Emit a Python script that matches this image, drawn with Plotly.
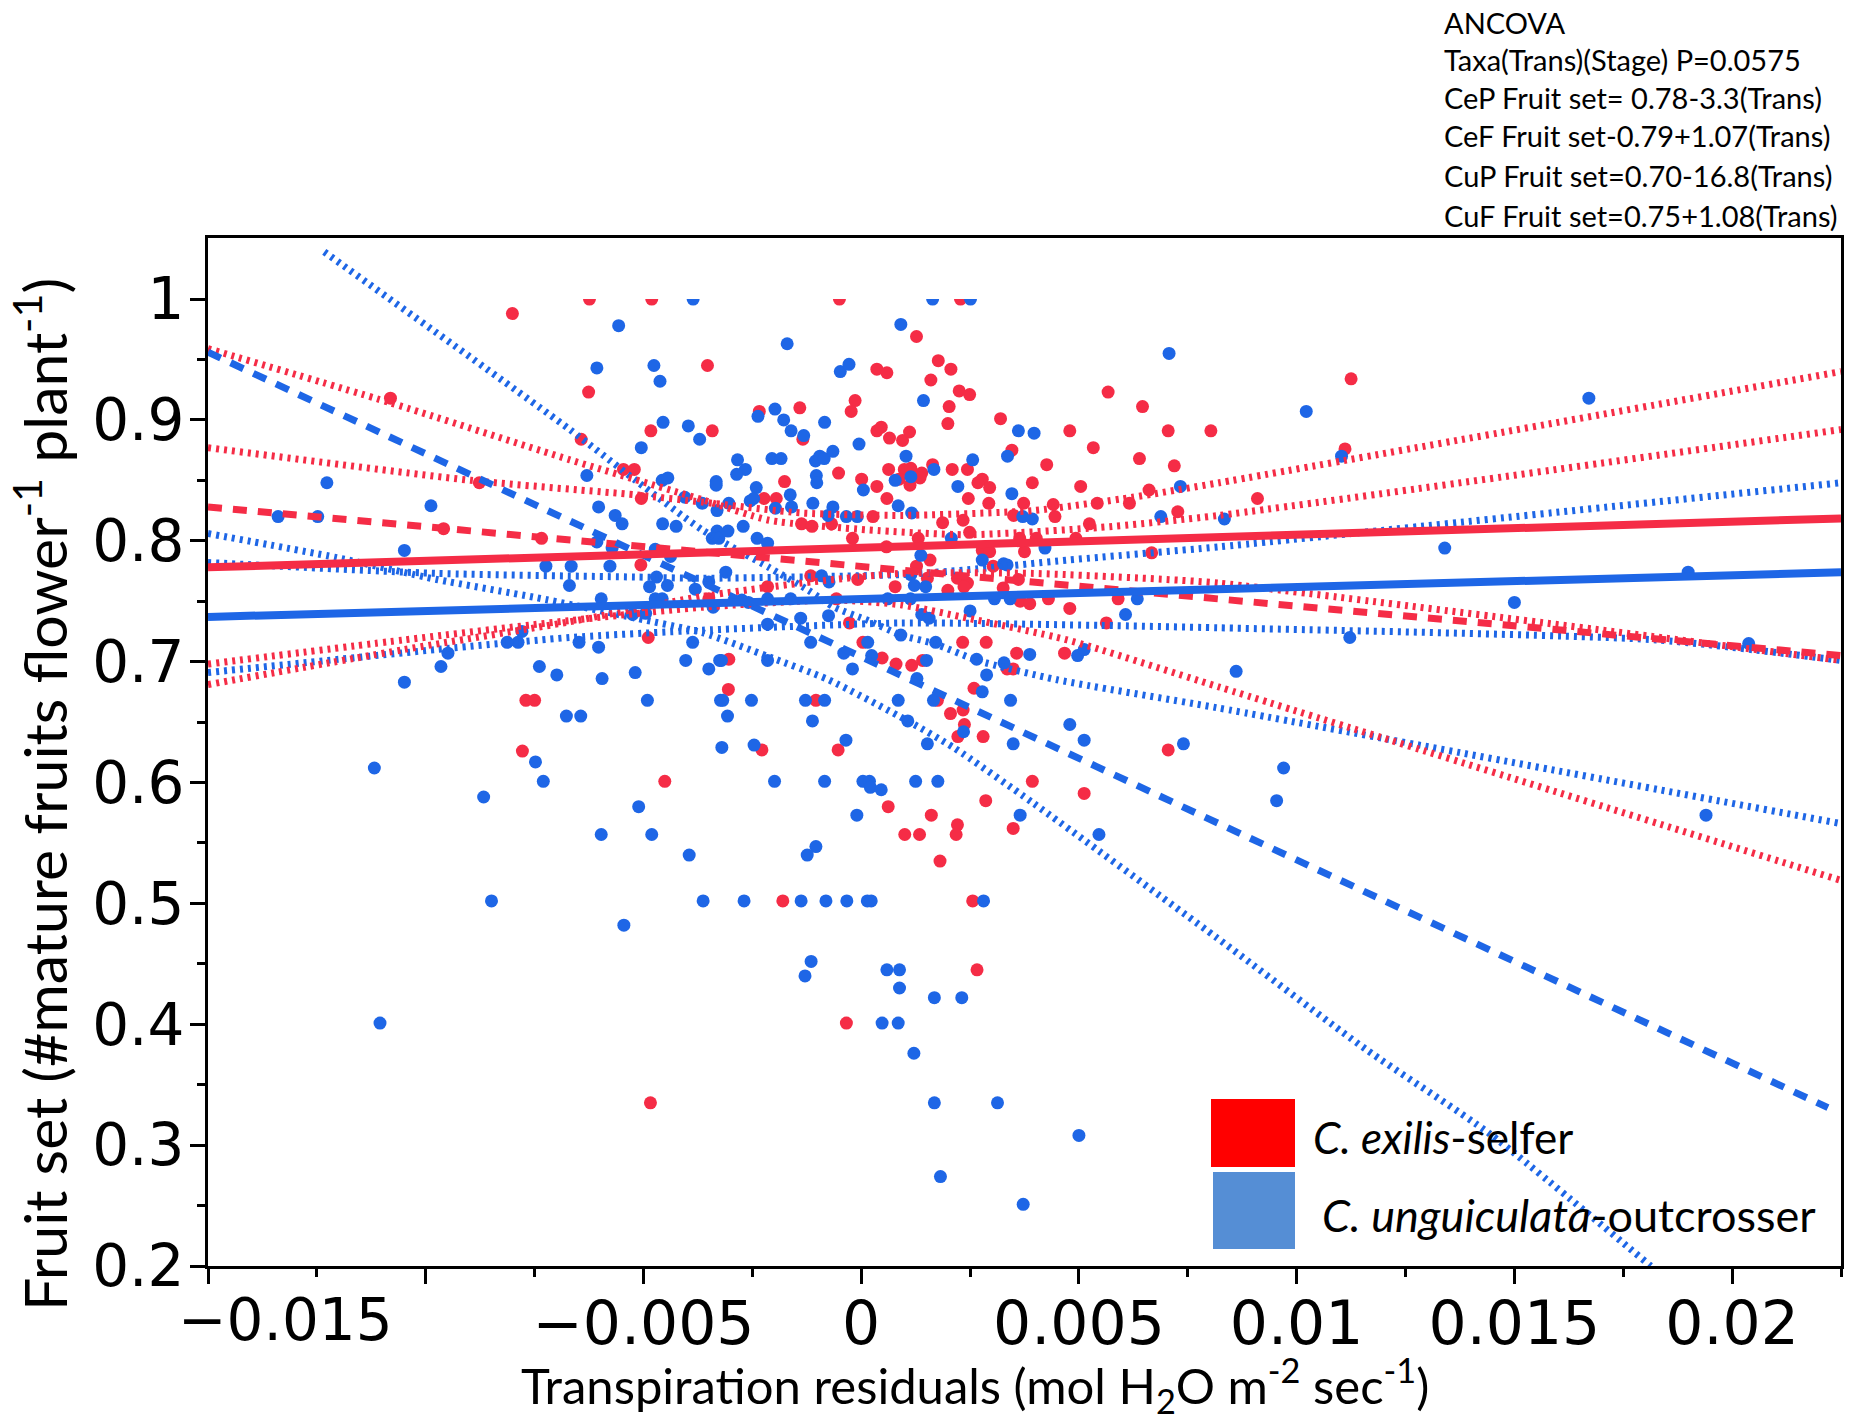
import plotly.graph_objects as go

# ---------- data ----------
red_x = [-0.00801,-0.00624,-0.00481,-0.00353,-0.00626,-0.00483,-0.00342,-0.00643,-0.01081,-0.00877,-0.00546,-0.00521,-0.00505,-0.00959,-0.00734,-0.00506,-0.00489,-0.0035,
 -0.0005,0.00228,0.00127,0.00036,0.00059,0.00177,0.00206,0.0016,0.00225,0.00249,0.00202,0.00199,-0.00234,-0.00141,-0.00014,-0.00023,0.0032,0.00036,0.00046,0.00065,0.00095,0.00111,-0.00134,0.00346,
 0.00063,0.00099,0.00114,0.00139,0.00135,0.00164,0.00209,0.00244,-0.00052,0.00087,0.00112,-0.00176,0.00001,0.00036,0.00278,0.00268,0.00295,0.00393,0.00426,0.00059,0.00246,0.00293,-0.00223,-0.00195,
 0.00373,0.00441,0.00479,0.00533,0.00504,0.00542,0.00567,0.00646,0.00705,0.00639,0.00719,0.00661,0.00803,0.00616,0.00727,0.00445,0.00524,0.0035,0.00187,0.00234,0.00249,0.00027,-0.00137,-0.00113,-0.00068,
 -0.0002,0.00058,0.00131,0.00278,0.00295,0.00364,0.00402,0.00375,0.00493,0.00667,0.00158,0.00127,0.00303,-0.00116,-0.00008,0.00152,0.00221,0.00244,0.00236,0.00361,0.00078,-0.00215,0.00326,0.00199,
 -0.00057,0.00365,0.00387,0.0043,0.00479,0.0059,-0.00027,0.00563,0.00233,0.00287,0.00004,0.00357,0.00467,-0.00304,0.00048,0.0008,0.00116,0.00141,0.00335,0.00349,-0.00305,0.00259,
 -0.0077,-0.0075,-0.00778,-0.00451,-0.00484,-0.00104,0.00175,0.00205,0.00234,0.00237,0.00222,0.0028,-0.00228,-0.00053,0.00393,0.00512,0.00286,0.00062,0.00161,0.00221,0.00218,0.001,0.00134,0.00349,0.00181,0.00705,-0.0018,0.00256,0.00266,-0.00034,
 0.01111,0.01125,0.0091]
red_y = [0.988,1.0,1.0,0.945,0.923,0.891,0.891,0.884,0.918,0.848,0.859,0.859,0.835,0.81,0.802,0.78,0.72,0.752,
 1.0,1.0,0.969,0.942,0.939,0.949,0.942,0.933,0.924,0.921,0.911,0.897,0.907,0.91,0.916,0.907,0.901,0.891,0.894,0.885,0.883,0.89,0.884,0.875,
 0.859,0.859,0.86,0.856,0.852,0.863,0.859,0.859,0.856,0.851,0.846,0.849,0.851,0.845,0.851,0.848,0.844,0.848,0.863,0.835,0.835,0.831,0.835,0.835,
 0.831,0.83,0.891,0.877,0.845,0.831,0.923,0.911,0.891,0.868,0.862,0.842,0.891,0.831,0.824,0.82,0.814,0.821,0.815,0.817,0.807,0.82,0.814,0.812,0.814,
 0.802,0.795,0.802,0.792,0.791,0.802,0.802,0.791,0.802,0.79,0.784,0.779,0.779,0.771,0.768,0.769,0.769,0.765,0.762,0.768,0.762,0.762,0.761,0.759,
 0.752,0.75,0.748,0.752,0.744,0.752,0.732,0.732,0.716,0.716,0.716,0.707,0.707,0.702,0.703,0.698,0.697,0.701,0.694,0.694,0.677,0.678,
 0.668,0.668,0.626,0.601,0.335,0.668,0.668,0.657,0.66,0.648,0.638,0.638,0.627,0.627,0.601,0.591,0.585,0.58,0.573,0.565,0.557,0.557,0.557,0.562,0.535,0.627,0.502,0.502,0.445,0.401,
 0.876,0.934,0.835]

blue_x = [-0.00557,-0.00607,-0.00476,-0.00462,-0.00455,-0.00397,-0.00371,-0.00505,-0.00386,-0.0063,-0.00457,-0.00444,-0.00333,-0.00333,-0.01227,-0.00988,-0.01339,-0.01248,-0.00603,-0.00565,-0.00549,-0.00456,-0.00425,-0.00365,-0.00405,-0.00331,-0.00331,-0.00342,-0.00327,-0.01049,-0.00607,-0.00572,-0.00473,-0.00438,
 -0.00724,-0.00666,-0.00577,-0.0047,-0.0067,-0.00486,-0.00445,-0.0035,-0.00381,-0.00597,-0.00473,-0.00457,-0.0034,-0.00495,-0.00525,-0.00779,-0.00813,-0.00788,-0.00949,-0.00648,-0.00603,-0.00387,-0.00965,-0.00739,-0.00699,-0.00595,-0.00519,-0.00403,-0.0035,-0.00325,-0.01049,
 0.00164,0.00251,0.00091,-0.0017,-0.00048,-0.00028,0.00143,-0.00237,-0.00198,-0.00178,-0.00161,-0.00132,-0.00084,0.00361,0.00397,0.00707,-0.00005,0.00103,-0.00205,-0.00184,-0.00284,-0.00266,-0.00286,-0.00105,-0.00095,-0.00085,-0.00065,0.00256,0.00336,-0.00103,-0.00102,-0.00241,0.00167,0.00114,0.00078,0.00222,0.00005,0.00346,0.00733,-0.00163,-0.00255,-0.00247,-0.00304,-0.00111,-0.0016,-0.00197,0.00085,0.00116,-0.00065,-0.00076,-0.00034,-0.00009,0.00371,0.00393,0.00688,-0.00271,-0.00306,-0.00239,-0.00215,0.00207,0.00137,0.00422,0.00278,0.00327,0.00335,-0.00311,-0.00091,-0.00074,0.00114,0.00122,0.00148,-0.00274,-0.00259,-0.00215,-0.00162,0.00061,0.00113,0.00306,0.00342,0.00634,0.00139,0.00156,0.0025,0.00607,-0.00215,-0.00139,-0.00075,0.00091,0.00171,-0.00116,0.00015,-0.0004,0.00024,0.0015,-0.00321,-0.00215,0.00265,0.00328,0.00387,0.00497,0.00512,-0.0002,0.00128,0.00288,
 -0.00491,-0.00323,-0.00677,-0.00644,-0.00748,-0.0073,-0.01118,-0.00867,-0.00511,-0.00597,-0.00481,-0.00395,-0.00849,-0.00363,-0.00545,-0.01105,
 -0.00318,-0.00252,-0.00128,-0.00084,0.00085,0.00166,0.00278,0.00343,-0.00307,-0.00112,0.00107,0.00479,-0.0032,-0.00246,-0.00035,0.00512,0.00152,0.00235,0.00349,0.0074,-0.00199,-0.00084,0.00004,0.00019,0.00021,0.00046,0.00125,0.00176,-0.0001,0.00365,0.00546,-0.00104,-0.00124,-0.00269,-0.00138,-0.00081,-0.00033,0.00014,0.00023,0.00281,-0.00115,-0.00129,0.00059,0.00088,0.00088,0.00168,0.00231,0.00048,0.00085,0.00121,
 0.00168,0.00313,0.00182,0.00372,0.005,
 0.01022,0.01103,0.01671,0.0134,0.01899,0.015,0.01122,0.00861,0.02038,0.0097,0.00954,0.0194,0.00834]
blue_y = [0.978,0.943,0.945,0.932,0.898,0.895,0.884,0.877,1.0,0.854,0.85,0.852,0.849,0.846,0.848,0.829,0.82,0.82,0.828,0.821,0.814,0.814,0.812,0.831,0.836,0.825,0.808,0.802,0.802,0.792,0.799,0.794,0.793,0.787,
 0.779,0.779,0.779,0.77,0.763,0.762,0.763,0.766,0.76,0.752,0.752,0.752,0.745,0.74,0.739,0.725,0.716,0.716,0.707,0.716,0.712,0.716,0.696,0.696,0.689,0.686,0.691,0.701,0.694,0.701,0.683,
 1.0,1.0,0.979,0.963,0.94,0.946,0.916,0.903,0.909,0.9,0.891,0.887,0.898,0.891,0.889,0.955,0.88,0.87,0.868,0.868,0.867,0.859,0.855,0.866,0.87,0.868,0.874,0.867,0.87,0.854,0.848,0.844,0.859,0.853,0.85,0.845,0.842,0.839,0.845,0.838,0.833,0.835,0.831,0.831,0.828,0.827,0.829,0.823,0.828,0.821,0.82,0.82,0.82,0.818,0.82,0.812,0.808,0.802,0.798,0.802,0.788,0.794,0.784,0.781,0.78,0.774,0.771,0.766,0.772,0.763,0.762,0.751,0.749,0.752,0.752,0.752,0.752,0.752,0.752,0.752,0.739,0.736,0.742,0.739,0.731,0.736,0.738,0.722,0.716,0.716,0.716,0.707,0.705,0.701,0.701,0.701,0.702,0.699,0.706,0.705,0.71,0.694,0.686,0.689,
 0.668,0.668,0.655,0.655,0.617,0.601,0.612,0.588,0.58,0.557,0.557,0.54,0.502,0.502,0.482,0.401,
 0.668,0.668,0.668,0.668,0.668,0.668,0.675,0.668,0.655,0.651,0.651,0.648,0.629,0.631,0.635,0.635,0.632,0.642,0.632,0.632,0.601,0.601,0.601,0.601,0.596,0.594,0.601,0.601,0.573,0.573,0.557,0.547,0.54,0.502,0.502,0.502,0.502,0.502,0.502,0.502,0.452,0.44,0.445,0.445,0.43,0.422,0.422,0.401,0.401,0.376,
 0.335,0.335,0.274,0.251,0.308,
 0.907,0.87,0.918,0.794,0.774,0.749,0.72,0.692,0.715,0.612,0.585,0.573,0.818]

fit_x = [-0.015, 0.0225]
cef_fit_y = [0.778, 0.8185]
cuf_fit_y = [0.737, 0.774]
cep_fit_y = [0.828, 0.705]
cup_fit_x = [-0.015, 0.0222]
cup_fit_y = [0.956, 0.331]

cup_upper_x = [-0.01233,-0.00669,-0.00518,-0.00365,-0.00212,-0.00121,-0.00062,0.00016,0.00091,0.00167,0.00267,0.0045,0.00815,0.0225]
cup_upper_y = [1.039,0.892,0.850,0.809,0.778,0.759,0.745,0.734,0.722,0.715,0.701,0.685,0.662,0.566]
cup_lower_x = [-0.015,-0.01203,-0.00975,-0.00747,-0.00518,-0.00365,-0.00212,-0.00075,0.00107,0.00212,0.00395,0.00815,0.0116,0.01441,0.01813]
cup_lower_y = [0.806,0.786,0.768,0.753,0.736,0.724,0.704,0.685,0.651,0.629,0.583,0.472,0.379,0.310,0.2]
cuf_upper_x = [-0.015,-0.00975,-0.00518,-0.00365,0.00091,0.00244,0.00473,0.00822,0.0225]
cuf_upper_y = [0.782,0.773,0.770,0.769,0.772,0.776,0.784,0.795,0.848]
cuf_lower_x = [-0.015,-0.00975,-0.00669,-0.00365,0.00091,0.00548,0.00822,0.01826,0.0225]
cuf_lower_y = [0.691,0.710,0.720,0.726,0.732,0.730,0.728,0.718,0.701]
cep_upper_x = [-0.015,-0.0108,-0.00669,-0.00365,-0.00212,0.00016,0.00244,0.00548,0.00822,0.0225]
cep_upper_y = [0.959,0.914,0.867,0.834,0.817,0.809,0.805,0.811,0.821,0.892]
cef_upper_x = [-0.015,-0.00897,-0.00518,-0.00365,-0.00137,0.00091,0.00395,0.00623,0.00822,0.0225]
cef_upper_y = [0.877,0.850,0.838,0.832,0.823,0.821,0.825,0.836,0.848,0.940]
cef_lower_x = [-0.015,-0.0105,-0.00669,-0.00365,-0.00137,0.00091,0.00395,0.00701,0.00822,0.0225]
cef_lower_y = [0.681,0.710,0.733,0.754,0.765,0.773,0.773,0.768,0.765,0.701]
cep_lower_x = [-0.015,-0.0105,-0.00669,-0.00365,-0.00062,0.00091,0.00244,0.00473,0.00822,0.0225]
cep_lower_y = [0.698,0.718,0.734,0.745,0.751,0.747,0.736,0.718,0.679,0.519]

x_major = [-0.015,-0.01,-0.005,0,0.005,0.01,0.015,0.02]
x_labels = ["","","−0.005","0","0.005","0.01","0.015","0.02"]
x_minor = [-0.0125,-0.0075,-0.0025,0.0025,0.0075,0.0125,0.0175,0.0225]
y_major = [0.2,0.3,0.4,0.5,0.6,0.7,0.8,0.9,1.0]
y_labels = ["0.2","0.3","0.4","0.5","0.6","0.7","0.8","0.9","1"]
y_minor = [0.25,0.35,0.45,0.55,0.65,0.75,0.85,0.95]

ancova_lines = ["ANCOVA","Taxa(Trans)(Stage) P=0.0575","CeP Fruit set= 0.78-3.3(Trans)",
                "CeF Fruit set-0.79+1.07(Trans)","CuP Fruit set=0.70-16.8(Trans)","CuF Fruit set=0.75+1.08(Trans)"]

# ---------- styles ----------
RED = "#F52C46"
BLUE = "#1E66E6"
PAGE = 8                     # the browser's own margin round the figure
W, H = 1860 - PAGE, 1416 - PAGE
L, R, T, B = 208, 1841, 238, 1266
DOT = "3px,5px"
DASH = "14px,11px"
LABEL_FONT = "Lato"

def px(v): return (v - L) / (R - L)
def py(v): return (B - v) / (B - T)

fig = go.Figure()
fig.add_trace(go.Scatter(x=red_x, y=red_y, mode="markers", name="C. exilis",
                         marker=dict(color=RED, size=13, line=dict(width=0))))
fig.add_trace(go.Scatter(x=blue_x, y=blue_y, mode="markers", name="C. unguiculata",
                         marker=dict(color=BLUE, size=13, line=dict(width=0))))
# the source crops its points at a fruit set of 1
fig.add_trace(go.Scatter(x=[-0.015,0.0225,0.0225,-0.015], y=[1.0,1.0,1.0505,1.0505], mode="none",
                         fill="toself", fillcolor="white", hoverinfo="skip"))

def band(x, y, color):
    fig.add_trace(go.Scatter(x=x, y=y, mode="lines",
                             line=dict(color=color, width=7, dash=DOT, shape="spline", smoothing=0.6)))

band(cup_upper_x, cup_upper_y, BLUE)
band(cup_lower_x, cup_lower_y, BLUE)
band(cuf_upper_x, cuf_upper_y, BLUE)
band(cuf_lower_x, cuf_lower_y, BLUE)
band(cep_upper_x, cep_upper_y, RED)
band(cep_lower_x, cep_lower_y, RED)
band(cef_upper_x, cef_upper_y, RED)
band(cef_lower_x, cef_lower_y, RED)

fig.add_trace(go.Scatter(x=fit_x, y=cep_fit_y, mode="lines", line=dict(color=RED, width=7, dash=DASH)))
fig.add_trace(go.Scatter(x=cup_fit_x, y=cup_fit_y, mode="lines", line=dict(color=BLUE, width=7, dash=DASH)))
fig.add_trace(go.Scatter(x=fit_x, y=cef_fit_y, mode="lines", line=dict(color=RED, width=8)))
fig.add_trace(go.Scatter(x=fit_x, y=cuf_fit_y, mode="lines", line=dict(color=BLUE, width=8)))

ann = []
for i, (text, yc) in enumerate(zip(ancova_lines, [22, 60, 97, 136, 175, 215])):
    ann.append(dict(x=px(1442), y=py(yc), xref="paper", yref="paper", xanchor="left", yanchor="middle",
                    text=text, showarrow=False, font=dict(family=LABEL_FONT, size=29, color="black")))
ann += [
    dict(x=px(1311), y=py(1137), xref="paper", yref="paper", xanchor="left", yanchor="middle",
         text="<i>C. exilis</i>-selfer", showarrow=False, font=dict(family=LABEL_FONT, size=44, color="black")),
    dict(x=px(1320), y=py(1215), xref="paper", yref="paper", xanchor="left", yanchor="middle",
         text="<i>C. unguiculata</i>-outcrosser", showarrow=False, font=dict(family=LABEL_FONT, size=45, color="black")),
    dict(x=px(975), y=py(1385), xref="paper", yref="paper", xanchor="center", yanchor="middle",
         text="Transpiration residuals (mol H<sub>2</sub>O m<sup>-2</sup> sec<sup>-1</sup>)",
         showarrow=False, font=dict(family=LABEL_FONT, size=49, color="black")),
    dict(x=px(40), y=py(795), xref="paper", yref="paper", xanchor="center", yanchor="middle", textangle=-90,
         text="Fruit set (#mature fruits flower<sup>-1</sup> plant<sup>-1</sup>)",
         showarrow=False, font=dict(family=LABEL_FONT, size=59, color="black")),
    dict(x=px(285), y=py(1320), xref="paper", yref="paper", xanchor="center", yanchor="middle",
         text="−0.015", showarrow=False, font=dict(family="DejaVu Sans", size=58, color="black")),
]

shapes = [
    dict(type="rect", xref="paper", yref="paper", x0=px(1211), x1=px(1295), y0=py(1167), y1=py(1099),
         fillcolor="#FF0000", line=dict(width=0)),
    dict(type="rect", xref="paper", yref="paper", x0=px(1213), x1=px(1295), y0=py(1249), y1=py(1172),
         fillcolor="#558ED5", line=dict(width=0)),
]

fig.update_layout(
    width=W, height=H, autosize=False, showlegend=False,
    margin=dict(l=L - PAGE, r=W - (R - PAGE), t=T - PAGE, b=H - (B - PAGE), pad=0),
    paper_bgcolor="white", plot_bgcolor="white",
    annotations=ann, shapes=shapes,
    xaxis=dict(range=[-0.015, 0.0225], tickmode="array", tickvals=x_major, ticktext=x_labels,
               ticks="outside", ticklen=15, tickwidth=2.5, tickcolor="black", showgrid=False, zeroline=False,
               showline=True, linecolor="black", linewidth=3, mirror=True, ticklabelstandoff=-12,
               tickfont=dict(family="DejaVu Sans", size=60, color="black"),
               minor=dict(tickmode="array", tickvals=x_minor, ticks="outside", ticklen=8, tickwidth=2.5,
                          tickcolor="black", showgrid=False)),
    yaxis=dict(range=[0.2, 1.0505], tickmode="array", tickvals=y_major, ticktext=y_labels,
               ticks="outside", ticklen=15, tickwidth=2.5, tickcolor="black", showgrid=False, zeroline=False,
               showline=True, linecolor="black", linewidth=3, mirror=True, ticklabelstandoff=-6,
               tickfont=dict(family="DejaVu Sans", size=58, color="black"),
               minor=dict(tickmode="array", tickvals=y_minor, ticks="outside", ticklen=8, tickwidth=2.5,
                          tickcolor="black", showgrid=False)),
)
fig.write_html("out.html")
